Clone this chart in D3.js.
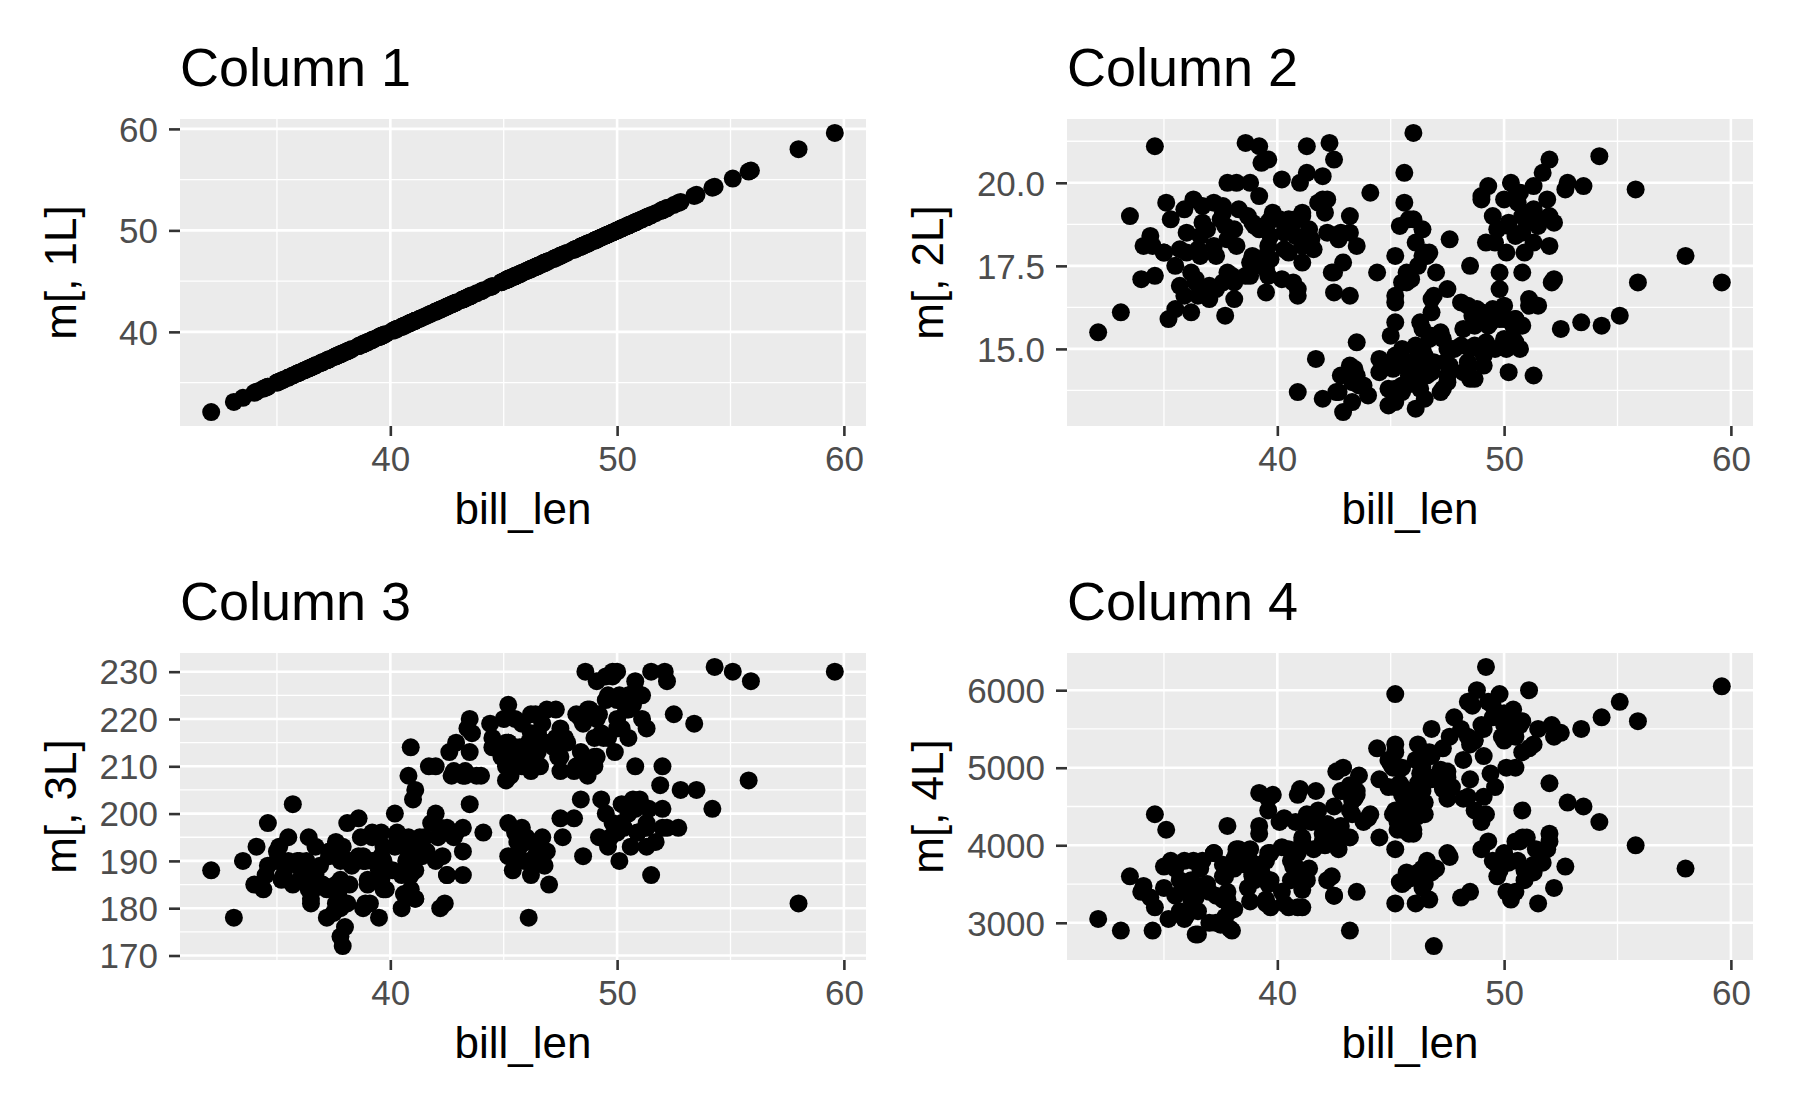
<!DOCTYPE html>
<html>
<head>
<meta charset="utf-8">
<script src="https://cdn.jsdelivr.net/npm/d3@7"></script>
<style>
  body { margin: 0; background: #fff; }
  text { font-family: "Liberation Sans", Arial, sans-serif; }
</style>
</head>
<body>
<svg width="1800" height="1112"></svg>
<script>
// rows: [bill_len, bill_dep, flipper_len, body_mass]
const adelie = [
  [39.1,18.7,181,3750],[39.5,17.4,186,3800],[40.3,18.0,195,3250],[36.7,19.3,193,3450],
  [39.3,20.6,190,3650],[38.9,17.8,181,3625],[39.2,19.6,195,4675],[34.1,18.1,193,3475],
  [42.0,20.2,190,4250],[37.8,17.1,186,3300],[37.8,17.3,180,3700],[41.1,17.6,182,3200],
  [38.6,21.2,191,3800],[34.6,21.1,198,4400],[36.6,17.8,185,3700],[38.7,19.0,195,3450],
  [42.5,20.7,197,4500],[34.4,18.4,184,3325],[46.0,21.5,194,4200],[37.8,18.3,174,3400],
  [37.7,18.7,180,3600],[35.9,19.2,189,3800],[38.2,18.1,185,3950],[38.8,17.2,180,3800],
  [35.3,18.9,187,3800],[40.6,18.6,183,3550],[40.5,17.9,187,3200],[37.9,18.6,172,3150],
  [40.5,18.9,180,3950],[39.5,16.7,178,3250],[37.2,18.1,178,3900],[39.5,17.8,188,3300],
  [40.9,18.9,184,3900],[36.4,17.0,195,3325],[39.2,21.1,196,4150],[38.8,20.0,190,3950],
  [42.2,18.5,180,3550],[37.6,19.3,181,3300],[39.8,19.1,184,4650],[36.5,18.0,182,3150],
  [40.8,18.4,195,3900],[36.0,18.5,186,3100],[44.1,19.7,196,4400],[37.0,16.9,185,3000],
  [39.6,18.8,190,4600],[41.1,19.0,182,3425],[37.5,18.9,179,2975],[36.0,17.9,190,3450],
  [42.3,21.2,191,4150],[39.6,17.7,186,3500],[40.1,18.9,188,4300],[35.0,17.9,190,3450],
  [42.0,19.5,200,4050],[34.5,18.1,187,2900],[41.4,18.6,191,3700],[39.0,17.5,186,3550],
  [40.6,18.8,193,3800],[36.5,16.6,181,2850],[37.6,19.1,194,3750],[35.7,16.9,185,3150],
  [41.3,21.1,195,4400],[37.6,17.0,185,3600],[41.1,18.2,192,4050],[36.4,17.1,184,2850],
  [41.6,18.0,192,3950],[35.5,16.2,195,3350],[41.1,19.1,188,4100],[35.9,16.6,190,3050],
  [41.8,19.4,198,4450],[33.5,19.0,190,3600],[39.7,18.4,190,3900],[39.6,17.2,196,3550],
  [45.8,18.9,197,4150],[35.5,17.5,190,3700],[42.8,18.5,195,4250],[40.9,16.8,191,3700],
  [37.2,19.4,184,3900],[36.2,16.1,187,3550],[42.1,19.1,195,4000],[34.6,17.2,189,3200],
  [42.9,17.6,196,4700],[36.7,18.8,187,3800],[35.1,19.4,193,4200],[37.3,17.8,191,3350],
  [41.3,20.3,194,3550],[36.3,19.5,190,3800],[36.9,18.6,189,3500],[38.3,19.2,189,3950],
  [38.9,18.8,190,3600],[35.7,18.0,202,3550],[41.1,18.1,205,4300],[34.0,17.1,185,3400],
  [39.6,18.1,186,4450],[36.2,17.3,187,3300],[40.8,18.9,208,4300],[38.1,18.6,190,3700],
  [40.3,18.5,196,4350],[33.1,16.1,178,2900],[43.2,18.5,192,4100],[35.0,17.9,192,3725],
  [41.0,20.0,203,4725],[37.7,16.0,183,3075],[37.8,20.0,190,4250],[37.9,18.6,193,2925],
  [39.7,18.9,184,3550],[38.6,17.2,199,3750],[38.2,20.0,190,3900],[38.1,17.0,181,3175],
  [43.2,19.0,197,4775],[38.1,16.5,198,3825],[45.6,20.3,191,4600],[39.7,17.7,193,3200],
  [42.2,19.5,197,4275],[39.6,20.7,191,3900],[42.7,18.3,196,4075],[38.0,17.2,176,2900],
  [32.1,15.5,188,3050],[40.2,17.1,193,3400],[37.0,16.5,185,3400],[40.7,17.0,190,3725],
  [39.0,18.7,185,3650],[40.2,20.1,200,3975],[36.6,18.4,184,3475],[39.2,18.6,190,4250],
  [38.8,17.6,191,3275],[35.2,15.9,186,3050],[41.5,18.3,195,4300],[37.3,16.8,192,3000]
];
const gentoo = [
  [46.1,13.2,211,4500],[50.0,16.3,230,5700],[48.7,14.1,210,4450],[50.0,15.2,218,5700],
  [47.6,14.5,215,5400],[46.5,13.5,210,4550],[45.4,14.6,211,4800],[46.7,15.3,219,5200],
  [43.3,13.4,209,4400],[46.8,15.4,215,5150],[40.9,13.7,214,4650],[49.0,16.1,216,5550],
  [45.5,13.7,214,4650],[48.4,14.6,213,5850],[45.8,14.6,210,4200],[49.3,15.7,217,5850],
  [42.0,13.5,210,4150],[49.2,15.2,221,6300],[46.2,14.5,209,4800],[48.7,15.1,222,5350],
  [50.2,14.3,218,5700],[45.1,14.5,215,5000],[46.5,14.5,213,4400],[46.3,15.8,215,5050],
  [42.9,13.1,215,5000],[46.1,15.1,215,5100],[44.5,14.3,216,4100],[47.8,15.0,215,5650],
  [48.2,14.3,210,4600],[50.0,15.3,220,5550],[47.3,15.3,222,5250],[42.8,14.2,209,4700],
  [45.1,14.5,207,5050],[59.6,17.0,230,6050],[49.1,14.8,220,5150],[48.4,16.3,220,5400],
  [42.6,13.7,213,4950],[44.4,17.3,219,5250],[44.0,13.6,208,4350],[48.7,15.7,208,5350],
  [42.7,13.7,208,3950],[49.6,16.0,225,5700],[45.3,13.7,210,4300],[49.6,15.0,216,4750],
  [50.5,15.9,222,5550],[43.6,13.9,217,4900],[45.5,13.9,210,4200],[50.5,15.9,225,5400],
  [44.9,13.3,213,5100],[45.2,15.8,215,5300],[46.6,14.2,210,4850],[48.5,14.1,220,5300],
  [45.1,14.4,210,4400],[50.1,15.0,225,5000],[46.5,14.4,217,4900],[45.0,15.4,220,5050],
  [43.8,13.9,208,4300],[45.5,15.0,220,5000],[43.2,14.5,208,4450],[50.4,15.3,224,5550],
  [45.3,13.8,208,4200],[46.2,14.9,221,5300],[45.7,13.9,214,4400],[54.3,15.7,231,5650],
  [45.8,14.2,219,4700],[49.8,16.8,230,5700],[46.2,14.4,214,4650],[49.5,16.2,229,5800],
  [43.5,14.2,220,4700],[50.7,15.0,223,5550],[47.7,15.0,216,4750],[46.4,15.6,221,5000],
  [48.2,15.6,221,5100],[46.5,14.8,217,5200],[46.4,15.0,216,4700],[48.6,16.0,230,5800],
  [47.5,14.2,209,4600],[51.1,16.3,220,6000],[45.2,13.8,215,4750],[45.2,16.4,223,5950],
  [49.1,14.5,212,4625],[52.5,15.6,221,5450],[47.4,14.6,212,4725],[50.0,15.9,224,5350],
  [44.9,13.8,212,4750],[50.8,17.3,228,5600],[43.4,14.4,218,4600],[51.3,14.2,218,5300],
  [47.5,14.0,212,4875],[52.1,17.0,230,5550],[47.5,15.0,218,4950],[52.2,17.1,228,5400],
  [45.5,14.5,212,4750],[49.5,16.1,224,5650],[44.5,14.7,214,4850],[50.8,15.7,226,5200],
  [49.4,15.8,216,4925],[46.9,14.6,222,4875],[48.4,14.4,203,4625],[51.1,16.5,225,5250],
  [48.5,15.0,219,4850],[55.9,17.0,228,5600],[47.2,15.5,215,4975],[49.1,15.0,228,5500],
  [46.8,16.1,215,5500],[41.7,14.7,210,4700],[53.4,15.8,219,5500],[43.3,14.0,208,4575],
  [48.1,15.1,209,5500],[50.5,15.2,216,5000],[49.8,15.9,229,5950],[43.5,15.2,213,4650],
  [51.5,16.3,230,5500],[46.2,14.1,217,4375],[55.1,16.0,230,5850],[48.8,16.2,222,6000],
  [47.2,13.7,214,4925],[46.8,14.3,215,4850],[50.4,15.7,222,5750],[45.2,14.8,212,5200],
  [49.9,16.1,213,5400],[46.3,13.8,215,4925],[47.3,13.8,216,4725],[45.2,13.4,212,4450]
];
const chinstrap = [
  [46.5,17.9,192,3500],[50.0,19.5,196,3900],[51.3,19.2,193,3650],[45.4,18.7,188,3525],
  [52.7,19.8,197,3725],[45.2,17.8,198,3950],[46.1,18.2,178,3250],[51.3,18.2,197,3750],
  [46.0,18.9,195,4150],[51.3,19.9,198,3700],[46.6,17.8,193,3800],[51.7,20.3,194,3775],
  [47.0,17.3,185,3700],[52.0,18.1,201,4050],[45.9,17.1,190,3575],[50.5,19.6,201,4050],
  [50.3,20.0,197,3300],[58.0,17.8,181,3700],[46.4,18.6,190,3450],[49.2,18.2,195,4400],
  [42.4,17.3,181,3600],[48.5,17.5,191,3400],[43.2,16.6,187,2900],[50.6,19.4,193,3800],
  [46.7,17.9,195,3300],[52.0,19.0,197,4150],[50.5,18.4,200,3400],[49.5,19.0,200,3800],
  [46.4,17.8,191,3700],[52.8,20.0,205,4550],[40.9,16.6,187,3200],[54.2,20.8,201,4300],
  [42.5,16.7,187,3350],[51.0,18.8,203,4100],[49.7,18.6,195,3600],[47.5,16.8,199,3900],
  [47.6,18.3,195,3850],[52.0,20.7,210,4800],[46.9,16.6,192,2700],[53.5,19.9,205,4500],
  [49.0,19.5,210,3950],[46.2,17.5,187,3650],[50.9,19.1,196,3550],[45.5,17.0,196,3500],
  [50.9,17.9,196,3675],[50.8,18.5,201,4450],[50.1,17.9,190,3400],[49.0,19.6,212,4300],
  [51.5,18.7,187,3250],[49.8,17.3,198,3675],[48.1,16.4,199,3325],[51.4,19.0,201,3950],
  [45.7,17.3,193,3600],[50.7,19.7,203,4050],[42.5,17.3,187,3350],[52.2,18.8,197,3450],
  [45.2,16.6,191,3250],[49.3,19.9,203,4050],[50.2,18.8,202,3800],[45.6,19.4,194,3525],
  [51.9,19.5,206,3950],[46.8,16.5,189,3650],[45.7,17.0,195,3650],[55.8,19.8,207,4000],
  [43.5,18.1,202,3400],[49.6,18.2,193,3775],[50.8,19.0,210,4100],[50.2,18.7,198,3775]
];

const titles = ["Column 1", "Column 2", "Column 3", "Column 4"];
const yLabels = ["m[, 1L]", "m[, 2L]", "m[, 3L]", "m[, 4L]"];
const xTicks = [40, 50, 60];
const yTicks = [[40, 50, 60], [15, 17.5, 20], [170, 180, 190, 200, 210, 220, 230], [3000, 4000, 5000, 6000]];
const yFormats = [d3.format("d"), d3.format(".1f"), d3.format("d"), d3.format("d")];

const rows = adelie.concat(gentoo, chinstrap);
const svg = d3.select("svg");

// yTitle: baseline offset of the rotated y title (aligned per column)
const panels = [
  { left: 180, top: 119, yTitle: -104 }, { left: 1067, top: 119, yTitle: -124 },
  { left: 180, top: 653, yTitle: -104 }, { left: 1067, top: 653, yTitle: -124 }
];
const pw = 686, ph = 307;

const expand = (ext) => {
  const pad = (ext[1] - ext[0]) * 0.05;
  return [ext[0] - pad, ext[1] + pad];
};
const mids = (ticks, dom) => {
  const step = ticks[1] - ticks[0];
  const out = [];
  for (let i = -1; i < ticks.length; i++) {
    const v = ticks[0] + step * (i + 0.5);
    if (v > dom[0] && v < dom[1]) out.push(v);
  }
  return out;
};

const xDomain = expand(d3.extent(rows, (d) => d[0]));

panels.forEach((p, k) => {
  const g = svg.append("g").attr("transform", `translate(${p.left},${p.top})`);
  const x = d3.scaleLinear().domain(xDomain).range([0, pw]);
  const yDomain = expand(d3.extent(rows, (d) => d[k]));
  const y = d3.scaleLinear().domain(yDomain).range([ph, 0]);

  g.append("rect").attr("width", pw).attr("height", ph).attr("fill", "#EBEBEB");

  g.selectAll(".minx").data(mids(xTicks, xDomain)).join("line")
    .attr("x1", x).attr("x2", x).attr("y1", 0).attr("y2", ph)
    .attr("stroke", "#fff").attr("stroke-width", 1.3);
  g.selectAll(".miny").data(mids(yTicks[k], yDomain)).join("line")
    .attr("y1", y).attr("y2", y).attr("x1", 0).attr("x2", pw)
    .attr("stroke", "#fff").attr("stroke-width", 1.3);
  g.selectAll(".majx").data(xTicks).join("line")
    .attr("x1", x).attr("x2", x).attr("y1", 0).attr("y2", ph)
    .attr("stroke", "#fff").attr("stroke-width", 2.6);
  g.selectAll(".majy").data(yTicks[k]).join("line")
    .attr("y1", y).attr("y2", y).attr("x1", 0).attr("x2", pw)
    .attr("stroke", "#fff").attr("stroke-width", 2.6);

  const xAxisG = g.append("g").attr("transform", `translate(0,${ph})`)
    .call(d3.axisBottom(x).tickValues(xTicks).tickSize(10).tickPadding(8));
  const yAxisG = g.append("g")
    .call(d3.axisLeft(y).tickValues(yTicks[k]).tickFormat(yFormats[k]).tickSize(11).tickPadding(11));
  xAxisG.selectAll(".tick text").attr("dy", null).attr("y", 45);
  yAxisG.selectAll(".tick text").attr("dy", "0.35em");
  [xAxisG, yAxisG].forEach((a) => {
    a.select(".domain").remove();
    a.selectAll(".tick line").attr("stroke", "#333").attr("stroke-width", 2.6);
    a.selectAll(".tick text").attr("fill", "#4D4D4D").style("font-size", "35px");
  });

  g.selectAll("circle").data(rows).join("circle")
    .attr("cx", (d) => x(d[0])).attr("cy", (d) => y(d[k]))
    .attr("r", 9).attr("fill", "#000");

  g.append("text").attr("x", pw / 2).attr("y", ph + 98)
    .attr("text-anchor", "middle").style("font-size", "44px").text("bill_len");
  g.append("text").attr("transform", `translate(${p.yTitle},${ph / 2}) rotate(-90)`)
    .attr("text-anchor", "middle").style("font-size", "44px").text(yLabels[k]);
  g.append("text").attr("x", 0).attr("y", -33)
    .style("font-size", "54px").text(titles[k]);
});
</script>
</body>
</html>
